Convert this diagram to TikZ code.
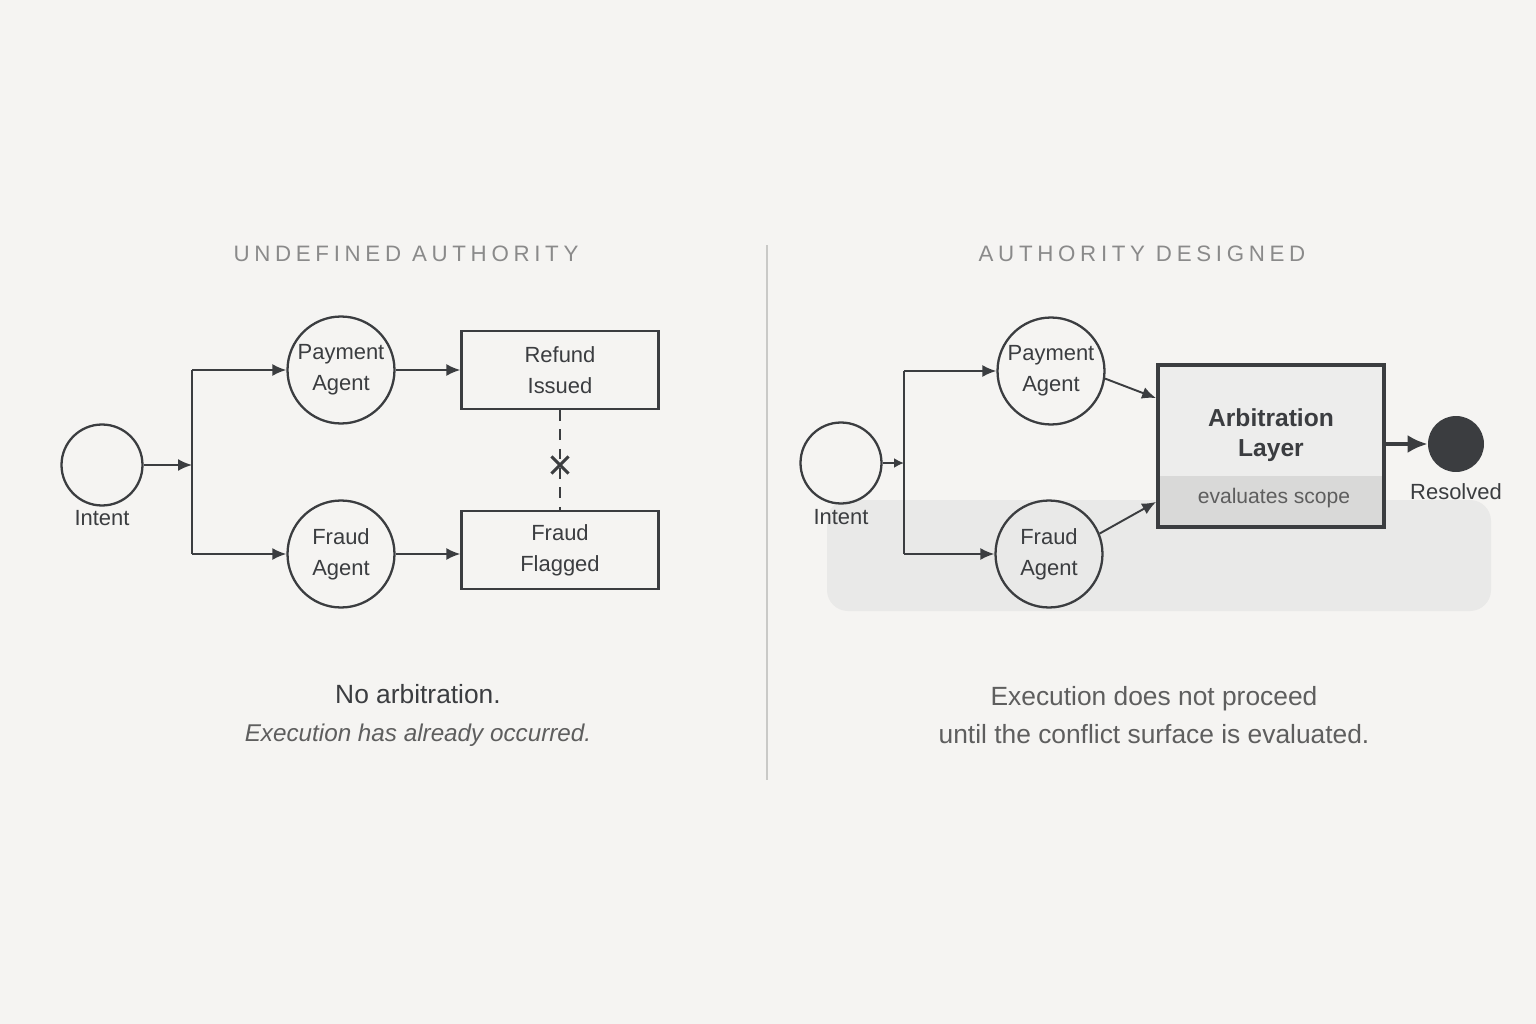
\documentclass[tikz,border=0pt]{standalone}
\usepackage{fontspec}
\setmainfont{Liberation Sans}
\usepackage{xcolor}
\usetikzlibrary{arrows.meta,positioning,shapes.misc}
\definecolor{ink}{HTML}{3B3D40}
\definecolor{paper}{HTML}{F5F4F2}
\definecolor{titlegray}{HTML}{8A8A8A}
\definecolor{softgray}{HTML}{5E5E5E}
\definecolor{panelgray}{HTML}{E9E9E8}
\definecolor{boxfill}{HTML}{EDEDEC}
\definecolor{bandfill}{HTML}{D9D9D8}
\definecolor{rulegray}{HTML}{C9C9C7}

\newcommand\titlefont{\fontsize{12.7}{15}\selectfont\addfontfeatures{LetterSpace=21}}
\newcommand\agentfont{\fontsize{12.5}{17.5}\selectfont}
\newcommand\notefont{\fontsize{15}{22}\selectfont}

\begin{document}
\begin{tikzpicture}[x=0.02cm, y=-0.02cm,
    agent/.style={circle, draw=ink, line width=1.3pt, minimum size=2.14cm,
                  inner sep=0pt, align=center, font=\agentfont, text=ink},
    start/.style={circle, draw=ink, line width=1.3pt, minimum size=1.62cm, inner sep=0pt},
    outcome/.style={rectangle, draw=ink, line width=1.3pt, minimum width=3.94cm,
                    minimum height=1.56cm, align=center, font=\agentfont, text=ink},
    caption/.style={font=\agentfont, text=ink, inner sep=1pt},
    flow/.style={draw=ink, line width=1.1pt, -{Latex[length=0.28cm, width=0.24cm]}},
    wire/.style={draw=ink, line width=1.1pt}]

    % canvas
    \fill[paper] (0,0) rectangle (1536,1024);
    \draw[rulegray, line width=0.6pt] (767,245) -- (767,780);

    % ---------------- left: undefined authority
    \node[font=\titlefont, text=titlegray] (titleL) at (406,254) {UNDEFINED AUTHORITY};

    \node[start] (intentL) at (102,465) {};
    \node[caption, below=0.04cm of intentL] (intentLtxt) {Intent};
    \coordinate (forkL) at (192,465);
    \node[agent] (payL) at (341,370) {Payment\\Agent};
    \node[agent] (fraudL) at (341,554) {Fraud\\Agent};
    \node[outcome] (refund) at (560,370) {Refund\\Issued};
    \node[outcome] (flagged) at (560,550) {Fraud\\Flagged};

    \draw[flow] (intentL.east) -- (forkL);
    \draw[wire] (forkL |- payL) -- (forkL |- fraudL);
    \draw[flow] (forkL |- payL) -- (payL.west);
    \draw[flow] (forkL |- fraudL) -- (fraudL.west);
    \draw[flow] (payL.east) -- (refund.west |- payL);
    \draw[flow] (fraudL.east) -- (flagged.west |- fraudL);
    \draw[ink, line width=1.1pt, dash pattern=on 6pt off 5pt] (refund.south) -- (flagged.north);
    \node[cross out, draw=ink, line width=1.8pt, minimum size=0.28cm, inner sep=0pt,
          fill=paper] (blocked) at (560,465) {};

    \node[font=\notefont, text=ink] (noteL1) at (418,694) {No arbitration.};
    \node[font=\fontsize{13.8}{20}\selectfont\itshape, text=softgray] (noteL2) at (418,735)
          {Execution has already occurred.};

    % ---------------- right: authority designed
    \node[font=\titlefont, text=titlegray] (titleR) at (1142,254) {AUTHORITY DESIGNED};

    \fill[panelgray, rounded corners=0.42cm] (827,500) rectangle (1491,611);

    \node[start] (intentR) at (841,463) {};
    \node[caption, below=0.06cm of intentR] (intentRtxt) {Intent};
    \coordinate (forkR) at (904,463);
    \node[agent] (payR) at (1051,371) {Payment\\Agent};
    \node[agent] (fraudR) at (1049,554) {Fraud\\Agent};

    \node[rectangle, draw=ink, line width=2.2pt, fill=boxfill, minimum width=4.52cm,
          minimum height=3.24cm, inner sep=0pt,
          path picture={\fill[bandfill] (path picture bounding box.south west)
             rectangle ([yshift=1.02cm]path picture bounding box.south east);}]
          (arb) at (1271,446) {};
    \node[font=\fontsize{14}{17}\selectfont\bfseries, text=ink, align=center] (arbtxt)
          at (1271,435) {Arbitration\\Layer};
    \node[font=\fontsize{12}{14}\selectfont, text=softgray] (scope) at (1274,498) {evaluates scope};

    \node[circle, fill=ink, minimum size=1.12cm, inner sep=0pt] (resolved) at (1456,444) {};
    \node[caption, below=0.18cm of resolved] (resolvedtxt) {Resolved};

    \draw[flow, -{Latex[length=0.2cm, width=0.2cm]}] (intentR.east) -- (forkR);
    \draw[wire] (forkR |- payR) -- (forkR |- fraudR);
    \draw[flow] (forkR |- payR) -- (payR.west);
    \draw[flow] (forkR |- fraudR) -- (fraudR.west);
    \draw[flow] (payR.-8) -- ([yshift=-0.7cm]arb.north west);
    \draw[flow] (fraudR.22) -- ([yshift=0.54cm]arb.south west);
    \draw[flow, line width=2.2pt, -{Latex[length=0.4cm, width=0.36cm]}] (arb.east |- resolved) -- (resolved.west);

    \node[font=\notefont, text=softgray, align=center] (noteR) at (1154,715)
          {Execution does not proceed\\until the conflict surface is evaluated.};
\end{tikzpicture}
\end{document}
